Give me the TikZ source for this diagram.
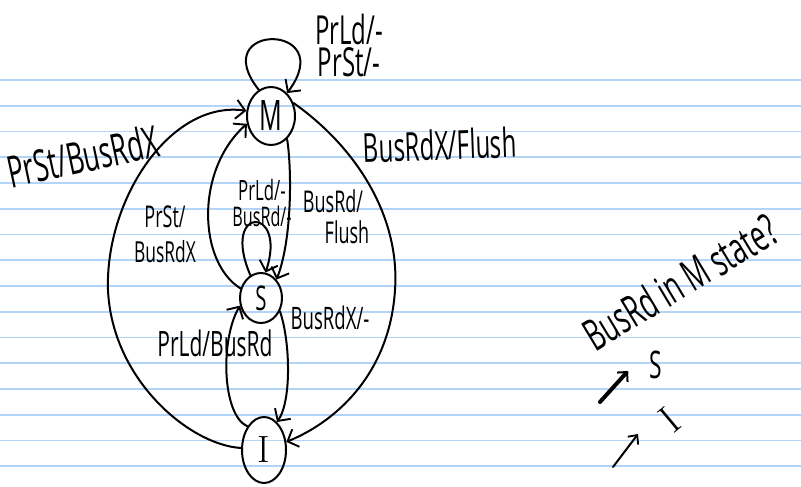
\documentclass[tikz,border=0pt]{standalone}
\usepackage{fontspec}
\usetikzlibrary{shapes.geometric,arrows.meta}
\newfontfamily\hand{Open Sans}[FakeStretch=0.6]
\definecolor{ruleblue}{RGB}{178,212,246}
\newcommand{\fs}[1]{\fontsize{#1}{#1}\selectfont}
\begin{document}
\begin{tikzpicture}[x=1pt,y=-1pt,
  ink/.style={line width=2pt, line cap=round, line join=round},
  state/.style={ellipse, draw, ink, inner sep=0pt},
  tip/.style={-{Straight Barb[length=9pt,width=19pt,line width=1.9pt]}},
  lbl/.style={inner sep=0pt, font=\hand},
]
\useasboundingbox (0,0) rectangle (801,487);
\fill[white] (0,0) rectangle (801,487);
% ruled paper
\foreach \k in {0,...,15}
  \draw[ruleblue, line width=1.6pt] (0,{80+25.75*\k}) -- (801,{80+25.75*\k});

% states
\node[state, minimum width=48pt, minimum height=58pt] (M) at (271,116) {\hand\fs{42}M};
\node[state, minimum width=42pt, minimum height=50pt] (S) at (261,298) {\hand\fs{34}S};
\node[state, minimum width=44pt, minimum height=66pt] (I) at (264,450) {\fs{38}I};

% transitions
\draw[ink,tip] (M.115) .. controls (205,22) and (340,22) .. (M.55);
\draw[ink,tip] (M.30) .. controls (360,150) and (400,220) .. (395,290)
                      .. controls (390,370) and (340,420) .. (I.20);
\draw[ink,tip] (I.175) .. controls (190,445) and (112,380) .. (108,290)
                       .. controls (105,200) and (170,100) .. (M.168);
\draw[ink,tip] (S.155) .. controls (198,262) and (195,170) .. (M.198);
\draw[ink,tip] (M.-55) .. controls (292,170) and (292,240) .. (S.50);
\draw[ink,tip] (S.115) .. controls (220,205) and (288,205) .. (S.80);
\draw[ink,tip] (S.-35) .. controls (290,340) and (292,400) .. (I.65);
\draw[ink,tip] (I.125) .. controls (222,415) and (220,340) .. (S.200);

% transition labels
\node[lbl] (l1) at (349,30) {\fs{40}PrLd/-};
\node[lbl] (l2) at (349,62) {\fs{40}PrSt/-};
\node[lbl, rotate=12] (l3) at (83,156) {\fs{44}PrSt/BusRdX};
\node[lbl, rotate=2] (l4) at (440,145) {\fs{40}BusRdX/Flush};
\node[lbl] (l5) at (165,217) {\fs{30}PrSt/};
\node[lbl] (l6) at (165,252) {\fs{29}BusRdX};
\node[lbl] (l7) at (262,190) {\fs{28}PrLd/-};
\node[lbl] (l8) at (262,216) {\fs{27}BusRd/-};
\node[lbl] (l9) at (333,201) {\fs{30}BusRd/};
\node[lbl] (l10) at (347,232) {\fs{30}Flush};
\node[lbl] (l11) at (330,318) {\fs{31}BusRdX/-};
\node[lbl] (l12) at (215,343) {\fs{35}PrLd/BusRd};

% side note
\node[lbl, rotate=31] (q) at (680,282) {\fs{44}BusRd in M state?};
\node[lbl] (qs) at (656,365) {\fs{38}S};
\node[inner sep=0pt, rotate=40] (qi) at (670,420) {\fs{40}I};
\coordinate (a1) at (600,402);
\coordinate (a2) at (628,371);
\coordinate (b1) at (613,467);
\coordinate (b2) at (638,434);
\draw[line width=4pt, line cap=round, -{Straight Barb[length=7pt,width=14pt,line width=2pt]}] (a1) -- (a2);
\draw[ink, -{Straight Barb[length=7pt,width=13pt,line width=1.8pt]}] (b1) -- (b2);
\end{tikzpicture}
\end{document}
